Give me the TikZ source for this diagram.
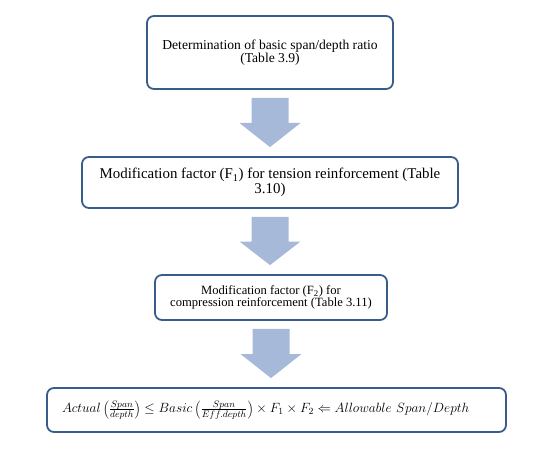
\RequirePackage{fix-cm}
\documentclass[tikz,border=0pt]{standalone}
\usepackage{fontspec}
\setmainfont{Liberation Serif}
\usetikzlibrary{positioning}
\usetikzlibrary{calc}

\definecolor{boxline}{RGB}{56,93,138}
\definecolor{arrowfill}{RGB}{167,185,217}

\begin{document}
\begin{tikzpicture}[x=1pt,y=-1pt,
    stepbox/.style={draw=boxline, line width=1.8pt, rounded corners=7pt, fill=white, inner sep=0pt, align=center}]
  % page frame
  \useasboundingbox (0,0) rectangle (548,457);

  % the four boxes
  \node[stepbox, minimum width=246pt, minimum height=73pt, font=\fontsize{13.6}{12.5}\selectfont] (b1) at (270,52.5)
    {Determination of basic span/depth ratio\\(Table 3.9)};
  \node[stepbox, minimum width=376pt, minimum height=51pt, font=\fontsize{14.9}{13.5}\selectfont] (b2) at (270,182.5)
    {Modification factor (F\textsubscript{1}) for tension reinforcement (Table\\3.10)};
  \node[stepbox, minimum width=232pt, minimum height=45pt, font=\fontsize{12.6}{11.5}\selectfont] (b3) at (271,297.5)
    {Modification factor (F\textsubscript{2}) for\\compression reinforcement (Table 3.11)};
  \node[stepbox, minimum width=459pt, minimum height=44pt, text width=429pt, align=left, font=\fontsize{13.4}{15}\selectfont] (b4) at (276.5,410)
    {$Actual\left(\frac{Span}{depth}\right)\leq Basic\left(\frac{Span}{Eff.depth}\right)\times F_1\times F_2\Leftarrow Allowable\ Span/Depth$};

  % block arrows between the boxes
  \foreach \a/\b in {b1/b2,b2/b3,b3/b4}
    {\fill[arrowfill] let \p1=(\a.south), \p2=(\b.north) in
      (\x1-18.5pt,\y1-8pt) -- (\x1+18.5pt,\y1-8pt) -- (\x1+18.5pt,{(\y1+\y2)/2}) -- (\x1+30.5pt,{(\y1+\y2)/2})
      -- (\x1,\y2+9pt) -- (\x1-30.5pt,{(\y1+\y2)/2}) -- (\x1-18.5pt,{(\y1+\y2)/2}) -- cycle;}
\end{tikzpicture}
\end{document}
